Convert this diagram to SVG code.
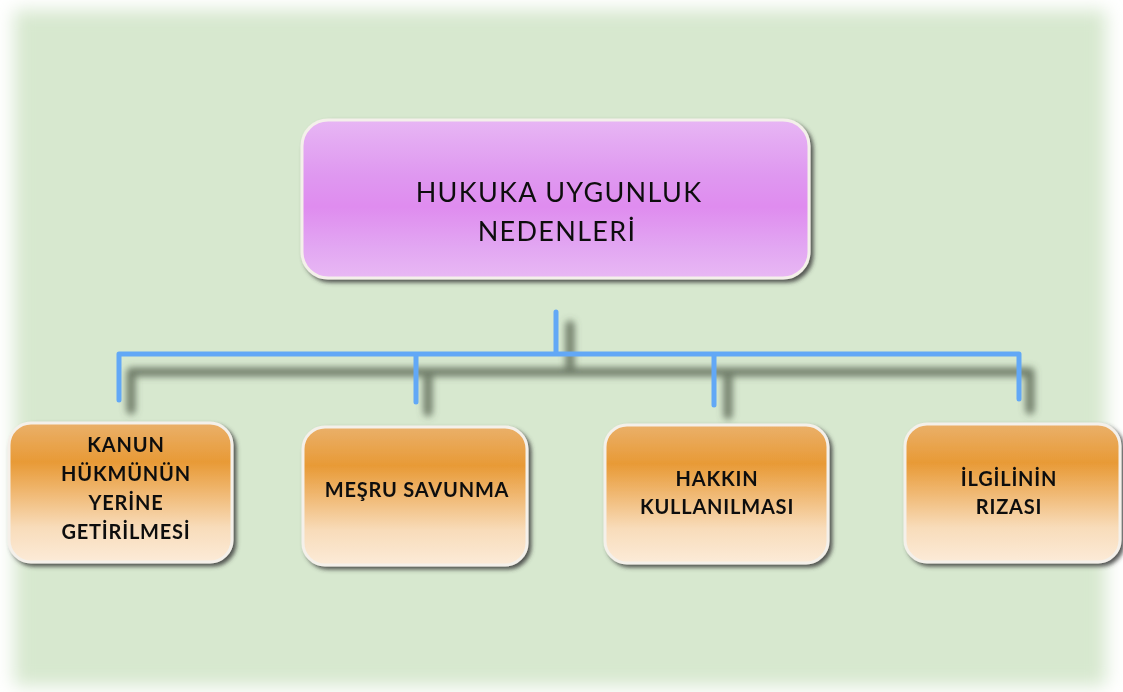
<svg xmlns="http://www.w3.org/2000/svg" width="1123" height="692" viewBox="0 0 1123 692">
  <defs>
    <filter id="bgSoft" x="-5%" y="-5%" width="110%" height="110%">
      <feGaussianBlur stdDeviation="9"/>
    </filter>
    <filter id="boxShadow" x="-10%" y="-10%" width="125%" height="130%">
      <feGaussianBlur in="SourceAlpha" stdDeviation="2"/>
      <feOffset dx="3" dy="3" result="b"/>
      <feFlood flood-color="#3a3a3a" flood-opacity="0.85"/>
      <feComposite in2="b" operator="in" result="s"/>
      <feMerge><feMergeNode in="s"/><feMergeNode in="SourceGraphic"/></feMerge>
    </filter>
    <filter id="lineShadow" x="-10%" y="-50%" width="120%" height="200%">
      <feGaussianBlur stdDeviation="3.5"/>
    </filter>
    <linearGradient id="purpleFill" x1="0" y1="0" x2="0" y2="1">
      <stop offset="0" stop-color="#e7b6f4"/>
      <stop offset="0.35" stop-color="#df98f0"/>
      <stop offset="0.55" stop-color="#df8cef"/>
      <stop offset="0.8" stop-color="#e2a6f2"/>
      <stop offset="1" stop-color="#e8b8f4"/>
    </linearGradient>
    <linearGradient id="orangeFill" x1="0" y1="0" x2="0" y2="1">
      <stop offset="0" stop-color="#eab06a"/>
      <stop offset="0.28" stop-color="#e89a36"/>
      <stop offset="0.5" stop-color="#f0b872"/>
      <stop offset="0.75" stop-color="#f8dcba"/>
      <stop offset="1" stop-color="#fcebd8"/>
    </linearGradient>
    <style>
      .rim { stroke: #f4f0ea; stroke-width: 3; }
      .conn { fill: none; stroke: #62a8f6; stroke-width: 5; stroke-linecap: round; stroke-linejoin: round; }
      .connShadow { fill: none; stroke: #4d5a48; stroke-width: 9; stroke-opacity: 0.75; stroke-linecap: round; }
      .title { font-family: Lato, "Open Sans", "Liberation Sans", sans-serif; font-size: 27px; fill: #111; text-anchor: middle; letter-spacing: 1.3px; }
      .label { font-family: Lato, "Open Sans", "Liberation Sans", sans-serif; font-size: 20px; font-weight: bold; fill: #111; text-anchor: middle; letter-spacing: 0.8px; }
    </style>
  </defs>

  <!-- page background with soft edges -->
  <rect x="0" y="0" width="1123" height="692" fill="#ffffff"/>
  <rect x="14" y="10" width="1092" height="676" fill="#d7e8cf" filter="url(#bgSoft)"/>

  <!-- connectors -->
  <g id="connectors">
    <g filter="url(#lineShadow)">
      <path class="connShadow" d="M570 325 V370 M131 372 H1030 M131 372 V410 M428 372 V412 M728 372 V415 M1030 372 V410"/>
    </g>
    <path class="conn" d="M556 312 V354 M119 354 H1019 M119 354 V400 M416 354 V402 M714 354 V405 M1019 354 V399"/>
  </g>

  <!-- root node -->
  <g id="root" filter="url(#boxShadow)">
    <rect class="rim" x="302" y="120" width="507" height="158" rx="26" fill="url(#purpleFill)"/>
    <text class="title" x="559" y="202">HUKUKA UYGUNLUK</text>
    <text class="title" x="557" y="241">NEDENLERİ</text>
  </g>

  <!-- child nodes -->
  <g id="kanun" filter="url(#boxShadow)">
    <rect class="rim" x="9" y="423" width="223" height="139" rx="22" fill="url(#orangeFill)"/>
    <text class="label" x="126" y="452">KANUN</text>
    <text class="label" x="126" y="481">HÜKMÜNÜN</text>
    <text class="label" x="126" y="510">YERİNE</text>
    <text class="label" x="126" y="539">GETİRİLMESİ</text>
  </g>

  <g id="mesru" filter="url(#boxShadow)">
    <rect class="rim" x="303" y="427" width="224" height="138" rx="22" fill="url(#orangeFill)"/>
    <text class="label" x="417" y="497">MEŞRU SAVUNMA</text>
  </g>

  <g id="hakkin" filter="url(#boxShadow)">
    <rect class="rim" x="605" y="425" width="223" height="138" rx="22" fill="url(#orangeFill)"/>
    <text class="label" x="717" y="486">HAKKIN</text>
    <text class="label" x="717" y="514">KULLANILMASI</text>
  </g>

  <g id="ilgilinin" filter="url(#boxShadow)">
    <rect class="rim" x="905" y="424" width="215" height="138" rx="22" fill="url(#orangeFill)"/>
    <text class="label" x="1009" y="486">İLGİLİNİN</text>
    <text class="label" x="1009" y="514">RIZASI</text>
  </g>
</svg>
